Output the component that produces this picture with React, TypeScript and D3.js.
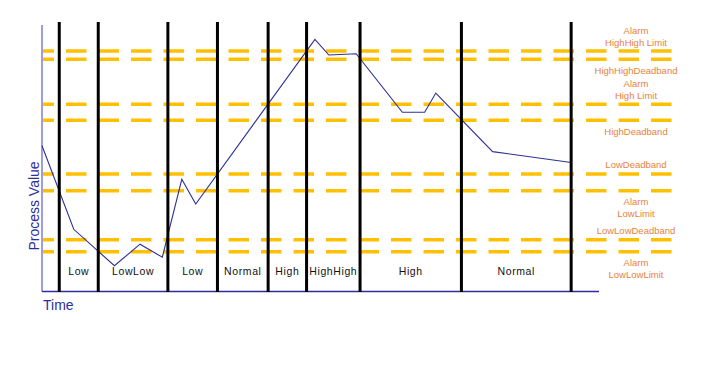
import React from "react";
import * as d3 from "d3";

// Process value over time (time 0..100, value 0..100)
const processTime = [0, 5.7, 13.0, 17.6, 21.6, 25.1, 27.6, 49.0, 51.5, 56.4, 64.7, 68.7, 70.7, 80.9, 95.0];
const processValue = [54.6, 23.2, 9.5, 17.6, 12.7, 42.0, 32.7, 94.6, 88.7, 89.2, 67.2, 67.2, 74.4, 52.4, 48.3];

// Alarm limits and deadbands
const thresholdValues = [90.2, 87.1, 70.2, 64.2, 44.0, 37.7, 19.3, 14.8];
const thresholdLabels = [
  ["Alarm", "HighHigh Limit"],
  ["HighHighDeadband"],
  ["Alarm", "High Limit"],
  ["HighDeadband"],
  ["LowDeadband"],
  ["Alarm", "LowLimit"],
  ["LowLowDeadband"],
  ["Alarm", "LowLowLimit"],
];
const thresholdLabelSide = ["above", "below", "above", "below", "above", "below", "above", "below"];

// State changes
const boundaryTimes = [3.1, 10.1, 22.6, 31.5, 40.6, 47.5, 57.1, 75.3, 95.0];
const stateLabels = ["Low", "LowLow", "Low", "Normal", "High", "HighHigh", "High", "Normal"];

const W = 720;
const H = 380;

export default function App() {
  const x = d3.scaleLinear().domain([0, 100]).range([42, 599]);
  const y = d3.scaleLinear().domain([0, 100]).range([291, 25]);
  const line = d3
    .line<number>()
    .x((_, i) => x(processTime[i]))
    .y((d) => y(d));

  const axisBottom = y(0) + 0.5;
  const lineTop = 22;
  const lineBottom = 292;
  const labelX = 636;
  const lineH = 12;

  return (
    <svg
      width={W}
      height={H}
      style={{ position: "absolute", left: 0, top: 0, background: "#fff" }}
      fontFamily="'Liberation Sans', Arial, sans-serif"
    >
      {/* threshold dashed lines */}
      {thresholdValues.map((v, i) => (
        <line
          key={"t" + i}
          x1={43}
          x2={671.5}
          y1={y(v)}
          y2={y(v)}
          stroke="#FFC000"
          strokeWidth={3.5}
          strokeDasharray="20.5 12"
          strokeDashoffset={9.5}
        />
      ))}

      {/* axes */}
      <line x1={x(0)} x2={x(0)} y1={y(100)} y2={axisBottom} stroke="#6a6acc" strokeWidth={1.3} />
      <line x1={x(0)} x2={x(100)} y1={axisBottom} y2={axisBottom} stroke="#2e2e9a" strokeWidth={1.5} />

      {/* process value */}
      <path d={line(processValue) || ""} fill="none" stroke="#2E3192" strokeWidth={1.1} />

      {/* state boundaries */}
      {boundaryTimes.map((t, i) => (
        <line key={"b" + i} x1={x(t)} x2={x(t)} y1={lineTop} y2={lineBottom} stroke="#000" strokeWidth={3} />
      ))}

      {/* state labels */}
      {stateLabels.map((s, i) => (
        <text
          key={"s" + i}
          x={(x(boundaryTimes[i]) + x(boundaryTimes[i + 1])) / 2}
          y={275}
          fontSize={10.5}
          letterSpacing={0.6}
          textAnchor="middle"
          fill="#111"
        >
          {s}
        </text>
      ))}

      {/* threshold labels */}
      {thresholdLabels.map((lines, i) => {
        const ty = y(thresholdValues[i]);
        const n = lines.length;
        return lines.map((t, j) => {
          const cy =
            thresholdLabelSide[i] === "above"
              ? ty - 9 - (n - 1 - j) * lineH
              : ty + 11 + j * lineH;
          return (
            <text
              key={"l" + i + "_" + j}
              x={labelX}
              y={cy + 3.5}
              fontSize={9.5}
              textAnchor="middle"
              fill="#E8823C"
            >
              {t}
            </text>
          );
        });
      })}

      {/* axis titles */}
      <text
        transform={`translate(38.5, 206) rotate(-90)`}
        fontSize={14}
        textAnchor="middle"
        fill="#2e2e9a"
      >
        Process Value
      </text>
      <text x={43} y={309.5} fontSize={14} fill="#2e2e9a">
        Time
      </text>
    </svg>
  );
}
